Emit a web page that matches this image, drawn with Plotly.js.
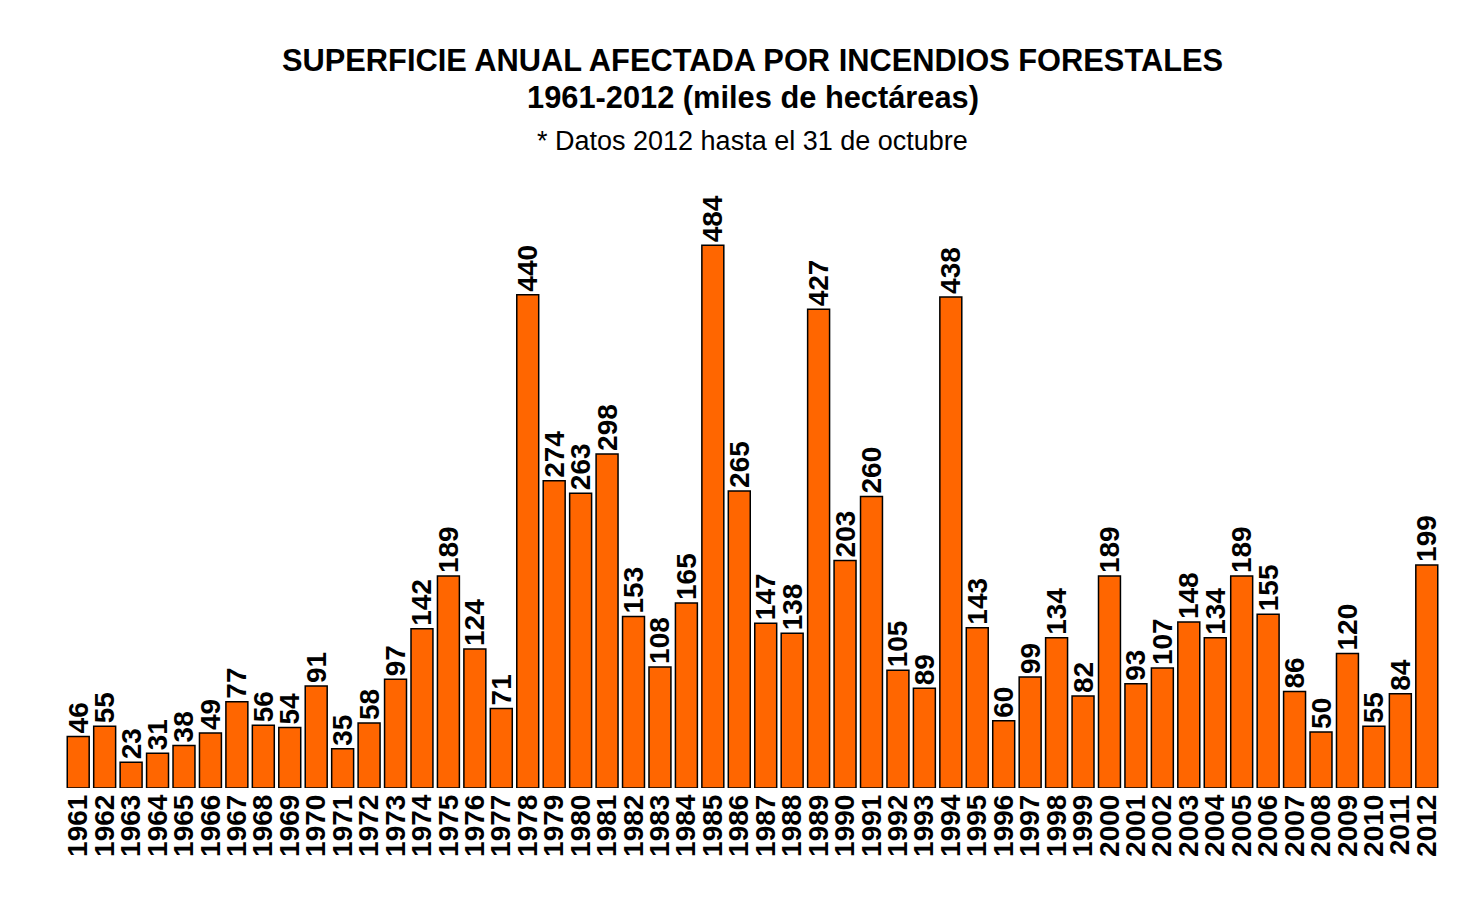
<!DOCTYPE html>
<html>
<head>
<meta charset="utf-8">
<script src="https://cdn.plot.ly/plotly-3.0.1.min.js"></script>
<style>html,body{margin:0;padding:0;background:#fff;}#chart{width:1484px;height:910px;}</style>
</head>
<body>
<div id="chart"></div>
<script>
const years = ["1961","1962","1963","1964","1965","1966","1967","1968","1969","1970",
"1971","1972","1973","1974","1975","1976","1977","1978","1979","1980",
"1981","1982","1983","1984","1985","1986","1987","1988","1989","1990",
"1991","1992","1993","1994","1995","1996","1997","1998","1999","2000",
"2001","2002","2003","2004","2005","2006","2007","2008","2009","2010",
"2011","2012"];
const hectareas = [46,55,23,31,38,49,77,56,54,91,
35,58,97,142,189,124,71,440,274,263,
298,153,108,165,484,265,147,138,427,203,
260,105,89,438,143,60,99,134,82,189,
93,107,148,134,189,155,86,50,120,55,
84,199];
const titleLine1 = "SUPERFICIE ANUAL AFECTADA POR INCENDIOS FORESTALES";
const titleLine2 = "1961-2012 (miles de hectáreas)";
const subtitleText = "* Datos 2012 hasta el 31 de octubre";

const FONT = "Liberation Sans, Arial, sans-serif";
const trace = {
  type: "bar",
  x: years,
  y: hectareas,
  text: hectareas.map(v => "<b>" + v + "</b>"),
  textposition: "outside",
  textangle: -90,
  constraintext: "none",
  cliponaxis: false,
  textfont: {family: FONT, size: 28, color: "#000"},
  marker: {color: "#FF6600", line: {color: "#000", width: 1.5}},
  hoverinfo: "x+y"
};
const layout = {
  width: 1484, height: 910,
  margin: {l: 65, r: 44, t: 205, b: 122},
  paper_bgcolor: "#fff", plot_bgcolor: "#fff",
  bargap: 0.17,
  showlegend: false,
  font: {family: FONT, color: "#000"},
  xaxis: {type: "category", showgrid: false, zeroline: false, showline: false, ticks: "",
          tickmode: "array", tickvals: years, ticktext: years.map(y => "<b>" + y + "</b>"),
          tickangle: -90, tickfont: {family: FONT, size: 28, color: "#000"}},
  yaxis: {range: [0, 520], visible: false, showgrid: false, zeroline: false},
  annotations: [
    {text: "<b>" + titleLine1 + "</b>", xref: "paper", yref: "paper", x: 0.5, y: (788-60)/583,
     xanchor: "center", yanchor: "middle", showarrow: false,
     font: {family: FONT, size: 30.8, color: "#000"}},
    {text: "<b>" + titleLine2 + "</b>", xref: "paper", yref: "paper", x: 0.5, y: (788-97)/583,
     xanchor: "center", yanchor: "middle", showarrow: false,
     font: {family: FONT, size: 30.8, color: "#000"}},
    {text: subtitleText, xref: "paper", yref: "paper", x: 0.5, y: (788-141)/583,
     xanchor: "center", yanchor: "middle", showarrow: false,
     font: {family: FONT, size: 27, color: "#000"}}
  ]
};
Plotly.newPlot("chart", [trace], layout, {displayModeBar: false, staticPlot: true});
</script>
</body>
</html>
